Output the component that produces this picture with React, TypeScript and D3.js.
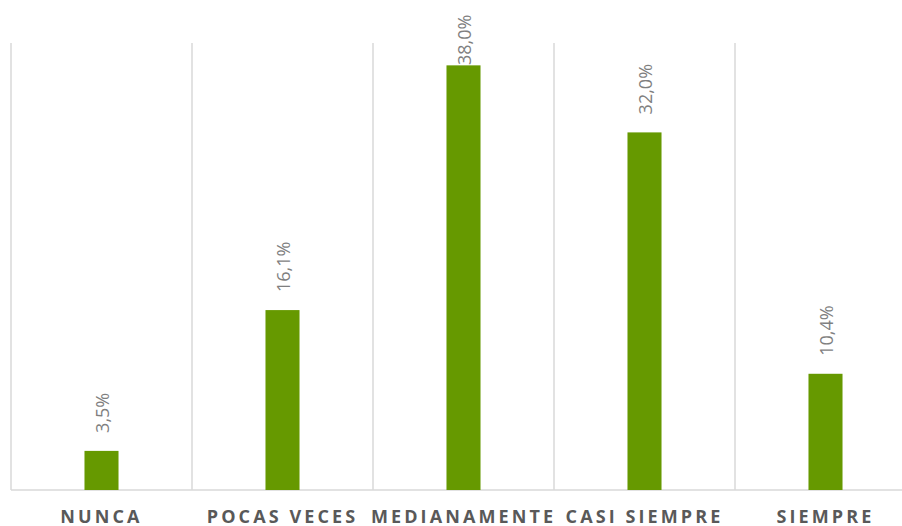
import * as d3 from "d3";

const categories = ["NUNCA", "POCAS VECES", "MEDIANAMENTE", "CASI SIEMPRE", "SIEMPRE"];
const values = [3.5, 16.1, 38.0, 32.0, 10.4];
const yMax = 40;

const width = 902;
const height = 526;
const plot = { left: 11, right: 916, top: 43, bottom: 490 };

const fmt = (v: number) => v.toFixed(1).replace(".", ",") + "%";

export default function App() {
  const x = d3
    .scaleBand<string>()
    .domain(categories)
    .range([plot.left, plot.right])
    .paddingInner(0.812)
    .paddingOuter(0.406);
  const y = d3.scaleLinear().domain([0, yMax]).range([plot.bottom, plot.top]);
  const step = x.step();

  // vertical separators between categories
  const grid = categories.map((c) => (x(c) ?? 0) - step * 0.406);

  return (
    <svg
      width={width}
      height={height}
      style={{ position: "absolute", left: 0, top: 0, background: "#fff" }}
      fontFamily="'Open Sans', sans-serif"
    >
      {grid.map((gx, i) => (
        <line key={i} x1={gx} x2={gx} y1={plot.top} y2={plot.bottom} stroke="#d9d9d9" strokeWidth={1.5} />
      ))}
      <line x1={plot.left} x2={width} y1={plot.bottom} y2={plot.bottom} stroke="#d9d9d9" strokeWidth={1.5} />

      {categories.map((c, i) => {
        const bx = x(c) ?? 0;
        const top = y(values[i]);
        const cx = bx + x.bandwidth() / 2;
        const ly = Math.max(top - 18, 65);
        return (
          <g key={c}>
            <rect x={bx} y={top} width={x.bandwidth()} height={plot.bottom - top} fill="#669900" />
            <text
              transform={`translate(${cx + 1},${ly}) rotate(-90)`}
              dy="0.35em"
              fontSize={18}
              fill="#7f7f7f"
              textAnchor="start"
            >
              {fmt(values[i])}
            </text>
            <text
              x={cx}
              y={523}
              fontSize={18}
              fontWeight="bold"
              letterSpacing={3.1}
              fill="#595959"
              textAnchor="middle"
            >
              {c}
            </text>
          </g>
        );
      })}
    </svg>
  );
}
